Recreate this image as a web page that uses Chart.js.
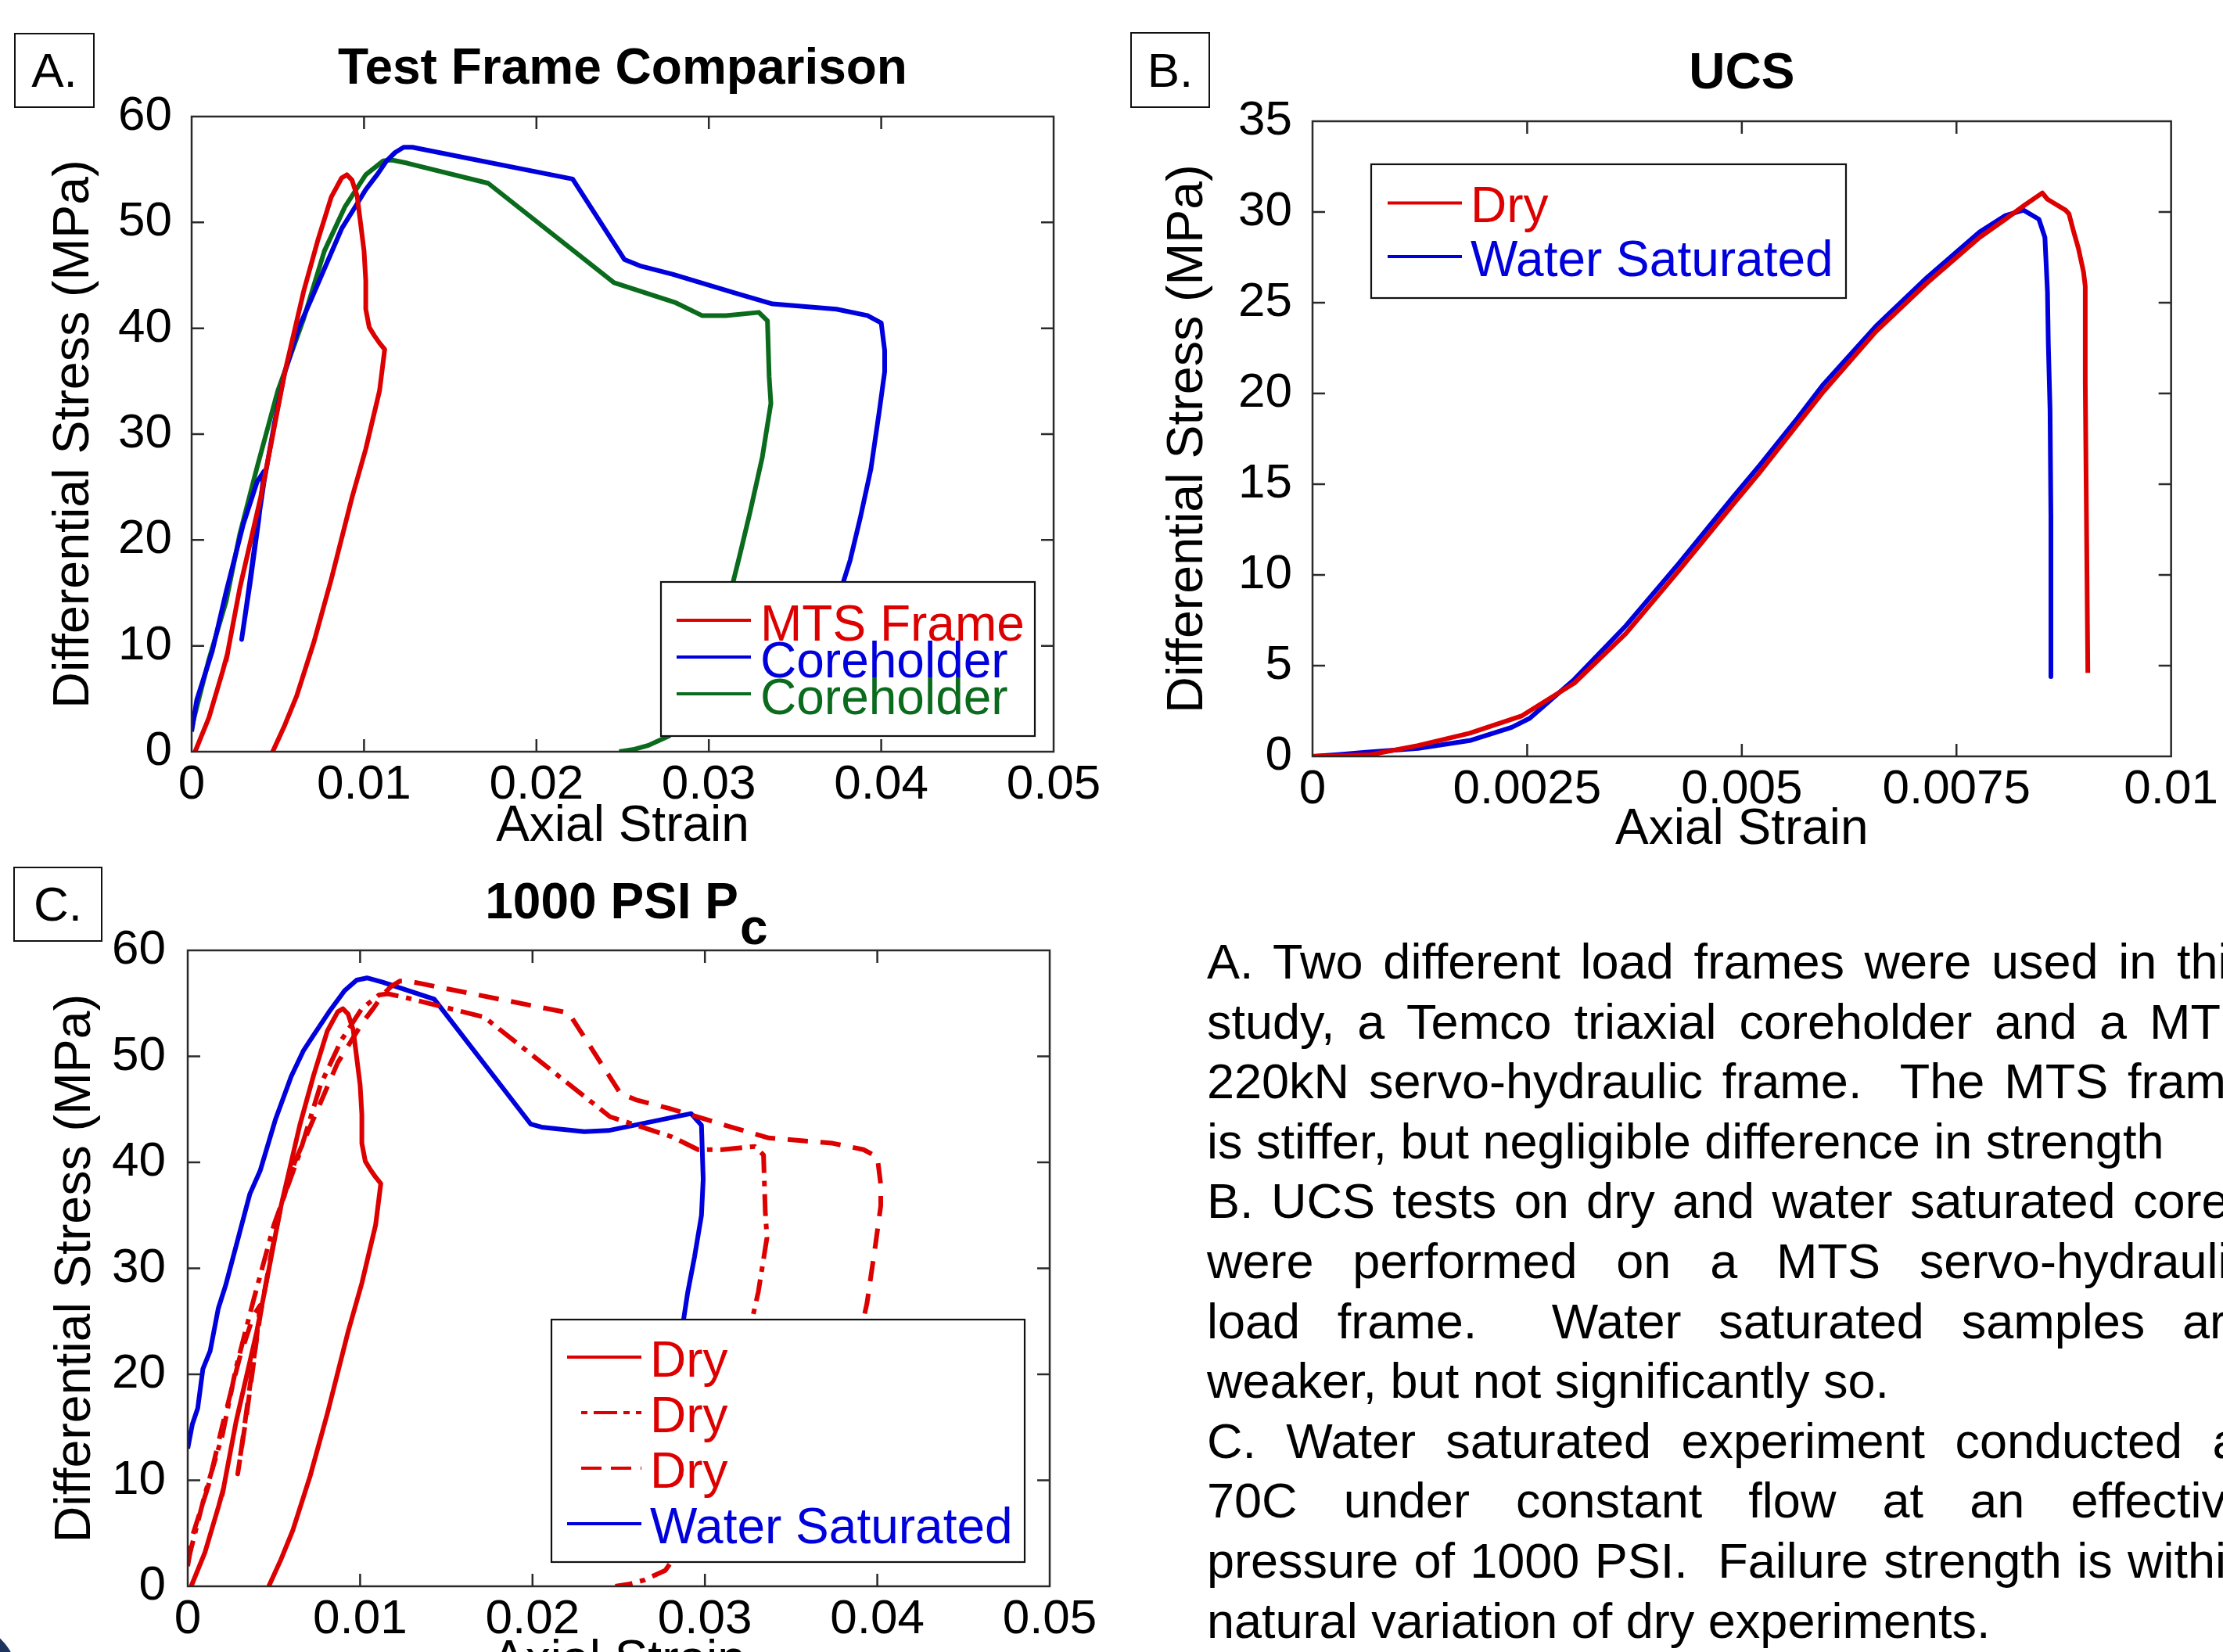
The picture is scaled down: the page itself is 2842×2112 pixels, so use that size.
<!DOCTYPE html>
<html>
<head>
<meta charset="utf-8">
<script src="https://cdn.jsdelivr.net/npm/chart.js@4.4.1/dist/chart.umd.min.js"></script>
<style>
html,body{margin:0;padding:0;background:#fff;}
body{width:2842px;height:2112px;overflow:hidden;position:relative;font-family:"Liberation Sans",Arial,Helvetica,sans-serif;color:#000;}
canvas.cv{position:absolute;}
.lbl{position:absolute;box-sizing:border-box;border:2px solid #111;font-size:62px;line-height:1;display:flex;align-items:center;justify-content:center;background:#fff;}
.para{position:absolute;left:1543px;top:1191px;font-size:63px;line-height:76.6px;}
.para div{width:1338px;white-space:normal;text-align:justify;text-align-last:justify;}
.para div.l{text-align-last:left;}
.arc{position:absolute;left:-128px;top:2074px;width:152px;height:152px;border-radius:50%;background:#1d3461;}
</style>
</head>
<body>
<canvas id="cA" class="cv" width="1420" height="1096" style="left:0;top:0;width:1420px;height:1096px"></canvas>
<canvas id="cB" class="cv" width="1422" height="1100" style="left:1420px;top:0;width:1422px;height:1100px"></canvas>
<canvas id="cC" class="cv" width="1420" height="1073" style="left:0;top:1090px;width:1420px;height:1073px"></canvas>

<div class="lbl" style="left:18px;top:42px;width:103px;height:96px">A.</div>
<div class="lbl" style="left:1445px;top:41px;width:102px;height:97px">B.</div>
<div class="lbl" style="left:17px;top:1108px;width:114px;height:96px">C.</div>

<div class="para">
<div>A. Two different load frames were used in this</div>
<div>study, a Temco triaxial coreholder and a MTS</div>
<div>220kN servo-hydraulic frame.&nbsp; The MTS frame</div>
<div class="l">is stiffer, but negligible difference in strength</div>
<div>B. UCS tests on dry and water saturated cores</div>
<div>were performed on a MTS servo-hydraulic</div>
<div>load frame.&nbsp; Water saturated samples are</div>
<div class="l">weaker, but not significantly so.</div>
<div>C. Water saturated experiment conducted at</div>
<div>70C under constant flow at an effective</div>
<div>pressure of 1000 PSI.&nbsp; Failure strength is within</div>
<div class="l">natural variation of dry experiments.</div>
</div>
<div class="arc"></div>

<script>
// ================= DATA =================
// Panel A / C : MTS frame (dry, solid red)
const mtsStrain = [0.0002, 0.0010, 0.0018, 0.0021, 0.0020, 0.0028, 0.0040, 0.0046, 0.0054, 0.0065, 0.0073, 0.0081, 0.0087, 0.0090, 0.0093, 0.0096, 0.0098, 0.0100, 0.0101, 0.0101, 0.0103, 0.0106, 0.0109, 0.0112, 0.0109, 0.0101, 0.0093, 0.0081, 0.0071, 0.0061, 0.0054, 0.0047];
const mtsStress = [0.0, 3.2, 7.6, 9.4, 8.6, 15.5, 24.0, 29.0, 35.8, 43.5, 48.2, 52.4, 54.2, 54.5, 54.0, 52.5, 49.9, 47.3, 44.5, 41.8, 40.1, 39.3, 38.6, 38.0, 34.1, 28.6, 24.0, 16.3, 10.4, 5.3, 2.5, 0.0];

// Coreholder test 1 (blue in A, dashed red in C)
const core1Strain = [0.0000, 0.0003, 0.0012, 0.0020, 0.0030, 0.0038, 0.0042, 0.0039, 0.0034, 0.0029, 0.0032, 0.0037, 0.0042, 0.0048, 0.0054, 0.0062, 0.0069, 0.0078, 0.0087, 0.0095, 0.0101, 0.0108, 0.0113, 0.0118, 0.0123, 0.0128, 0.0221, 0.0251, 0.0260, 0.0279, 0.0316, 0.0337, 0.0374, 0.0392, 0.0400, 0.0402, 0.0402, 0.0399, 0.0394, 0.0388, 0.0382, 0.0377, 0.0372, 0.0368];
const core1Stress = [1.9, 4.9, 9.5, 15.1, 21.5, 25.5, 26.5, 22.0, 16.0, 10.6, 14.0, 20.0, 25.5, 31.0, 35.8, 40.0, 42.6, 46.0, 49.4, 51.5, 53.1, 54.6, 55.8, 56.6, 57.1, 57.1, 54.1, 46.5, 45.9, 45.1, 43.3, 42.3, 41.8, 41.2, 40.5, 37.9, 35.9, 32.3, 26.7, 22.2, 18.1, 15.5, 12.0, 8.0];

// Coreholder test 2 (green in A, dash-dot red in C)
const core2Strain = [0.0000, 0.0010, 0.0020, 0.0028, 0.0038, 0.0050, 0.0065, 0.0077, 0.0089, 0.0101, 0.0111, 0.0116, 0.0125, 0.0172, 0.0245, 0.0281, 0.0296, 0.0310, 0.0329, 0.0334, 0.0335, 0.0336, 0.0331, 0.0324, 0.0318, 0.0311, 0.0302, 0.0292, 0.0277, 0.0265, 0.0256, 0.0248];
const core2Stress = [2.3, 8.7, 14.2, 20.6, 26.9, 34.1, 40.9, 47.3, 51.5, 54.5, 55.8, 55.9, 55.6, 53.7, 44.3, 42.4, 41.2, 41.2, 41.5, 40.7, 35.4, 32.9, 27.8, 22.7, 18.6, 14.0, 9.0, 5.0, 1.5, 0.6, 0.2, 0.0];

// Panel C : water saturated (blue)
const wetCStrain = [0.0000, 0.00027, 0.00058, 0.00088, 0.0013, 0.00177, 0.0022, 0.0030, 0.0036, 0.0042, 0.0051, 0.0060, 0.0067, 0.0073, 0.0082, 0.0091, 0.0098, 0.0104, 0.0113, 0.0143, 0.0199, 0.0206, 0.0230, 0.0244, 0.0292, 0.0298, 0.0299, 0.0298, 0.0294, 0.0290, 0.0287, 0.0284, 0.0280];
const wetCStress = [13.0, 15.3, 16.8, 20.5, 22.2, 26.2, 28.4, 33.3, 37.0, 39.2, 44.1, 48.1, 50.5, 52.0, 54.2, 56.2, 57.2, 57.4, 57.0, 55.4, 43.6, 43.3, 42.9, 43.0, 44.6, 43.5, 38.4, 35.0, 31.1, 27.7, 24.5, 20.0, 15.0];

// Panel B : UCS
const ucsDryStrain = [0.0000, 0.0004, 0.00068, 0.00123, 0.00183, 0.00244, 0.00305, 0.00365, 0.00426, 0.0049, 0.0052, 0.00565, 0.00595, 0.00656, 0.00716, 0.00777, 0.00807, 0.0083, 0.0085, 0.00856, 0.00877, 0.00881, 0.00886, 0.00892, 0.00898, 0.0090, 0.0090, 0.00902, 0.00903];
const ucsDryStress = [0.0, 0.05, 0.1, 0.6, 1.28, 2.24, 4.04, 6.77, 10.2, 13.9, 15.6, 18.3, 20.1, 23.4, 26.1, 28.6, 29.6, 30.4, 31.05, 30.7, 30.1, 29.9, 29.0, 28.0, 26.7, 25.9, 20.6, 10.0, 4.6];
const ucsWetStrain = [0.0000, 0.0003, 0.00062, 0.00123, 0.00183, 0.00232, 0.00253, 0.00305, 0.00365, 0.00426, 0.0049, 0.0052, 0.00565, 0.00595, 0.00656, 0.00716, 0.00777, 0.00807, 0.00828, 0.00846, 0.00853, 0.00856, 0.00857, 0.00859, 0.0086, 0.0086];
const ucsWetStress = [0.0, 0.1, 0.23, 0.44, 0.87, 1.6, 2.1, 4.25, 7.2, 10.6, 14.3, 16.0, 18.65, 20.5, 23.7, 26.4, 28.9, 29.8, 30.1, 29.6, 28.6, 25.6, 22.7, 19.1, 13.2, 4.4];

// Ticks
const strainTicks = [0, 0.01, 0.02, 0.03, 0.04, 0.05];
const strainTickLabels = ['0', '0.01', '0.02', '0.03', '0.04', '0.05'];
const stressTicks60 = [0, 10, 20, 30, 40, 50, 60];
const stressTickLabels60 = ['0', '10', '20', '30', '40', '50', '60'];
const ucsStrainTicks = [0, 0.0025, 0.005, 0.0075, 0.01];
const ucsStrainTickLabels = ['0', '0.0025', '0.005', '0.0075', '0.01'];
const ucsStressTicks = [0, 5, 10, 15, 20, 25, 30, 35];
const ucsStressTickLabels = ['0', '5', '10', '15', '20', '25', '30', '35'];

// Labels
const titleA = 'Test Frame Comparison';
const titleB = 'UCS';
const titleC = '1000 PSI P ';
const titleCSub = 'c';
const xTitle = 'Axial Strain';
const yTitle = 'Differential Stress (MPa)';

// ================= RENDERING =================
const FONT = '"Liberation Sans", Arial, Helvetica, sans-serif';
Chart.defaults.font.family = FONT;
Chart.defaults.color = '#000';
const RED = '#dd0000', BLUE = '#0000dd', GREEN = '#0b6b1d';

function pts(xs, ys) { return xs.map((x, i) => ({ x: x, y: ys[i] })); }

function line(label, xs, ys, color, dash) {
  return { label, data: pts(xs, ys), borderColor: color, backgroundColor: color, borderWidth: 6,
    borderDash: dash || [], pointRadius: 0, pointHoverRadius: 0, showLine: true, fill: false,
    tension: 0, borderCapStyle: 'butt', borderJoinStyle: 'round' };
}

const framePlugin = {
  id: 'frameLegend',
  afterDatasetsDraw(chart, args, o) {
    const { ctx, chartArea: a } = chart;
    const xs = chart.scales.x, ys = chart.scales.y;
    ctx.save();
    ctx.setLineDash([]);
    ctx.strokeStyle = '#2a2a2a';
    ctx.lineWidth = 2.5;
    ctx.beginPath();
    xs.ticks.forEach(t => {
      const p = xs.getPixelForValue(t.value);
      if (p > a.left + 2 && p < a.right - 2) {
        ctx.moveTo(p, a.bottom); ctx.lineTo(p, a.bottom - o.tickLen);
        ctx.moveTo(p, a.top); ctx.lineTo(p, a.top + o.tickLen);
      }
    });
    ys.ticks.forEach(t => {
      const p = ys.getPixelForValue(t.value);
      if (p > a.top + 2 && p < a.bottom - 2) {
        ctx.moveTo(a.left, p); ctx.lineTo(a.left + o.tickLen, p);
        ctx.moveTo(a.right, p); ctx.lineTo(a.right - o.tickLen, p);
      }
    });
    ctx.stroke();
    ctx.strokeRect(a.left, a.top, a.right - a.left, a.bottom - a.top);

    const L = o.legend;
    if (L) {
      const bx = a.left + L.left, by = a.top + L.top;
      ctx.fillStyle = '#fff';
      ctx.fillRect(bx, by, L.width, L.height);
      ctx.lineWidth = 2.2; ctx.strokeStyle = '#111';
      ctx.strokeRect(bx, by, L.width, L.height);
      chart.data.datasets.forEach((ds, i) => {
        const yy = by + L.firstRow + i * L.rowStep;
        const s0 = L.sampleStart ? L.sampleStart[i] : L.sampleX0;
        ctx.strokeStyle = ds.borderColor; ctx.lineWidth = 4;
        ctx.setLineDash(ds.borderDash && ds.borderDash.length ? L.sampleDash[i] : []);
        ctx.beginPath(); ctx.moveTo(bx + s0, yy); ctx.lineTo(bx + L.sampleX1, yy); ctx.stroke();
        ctx.setLineDash([]);
        ctx.fillStyle = ds.borderColor;
        ctx.font = L.fontSize + 'px ' + FONT;
        ctx.textBaseline = 'middle'; ctx.textAlign = 'left';
        ctx.fillText(ds.label, bx + L.textX, yy + L.textDy);
      });
    }
    ctx.restore();
  }
};

const subPlugin = {
  id: 'titleSub',
  afterDraw(chart, args, o) {
    if (!o || !o.text) return;
    const t = chart.titleBlock; if (!t) return;
    const to = t.options; const size = to.font.size;
    const { ctx } = chart;
    ctx.save();
    ctx.font = 'bold ' + size + 'px ' + FONT;
    const full = ctx.measureText(to.text).width;
    const main = ctx.measureText(to.text.replace(/\s+$/, '')).width;
    const cx = t.left + t.width / 2;
    const midY = t.top + to.padding.top + size * 1.2 / 2;
    ctx.fillStyle = '#000'; ctx.textBaseline = 'middle'; ctx.textAlign = 'left';
    ctx.fillText(o.text, cx - full / 2 + main + o.dx, midY + o.dy);
    ctx.restore();
  }
};

function makeChart(id, p) {
  return new Chart(document.getElementById(id), {
    type: 'scatter',
    data: { datasets: p.datasets },
    plugins: [framePlugin, subPlugin],
    options: {
      responsive: false, animation: false, devicePixelRatio: 1,
      layout: { padding: { left: 0, top: 0, right: p.padRight, bottom: 0 } },
      events: [],
      plugins: {
        legend: { display: false }, tooltip: { enabled: false },
        title: { display: true, text: p.title, fullSize: false, color: '#000',
          font: { size: 64, weight: 'bold', family: FONT }, padding: { top: p.titleTop, bottom: p.titleBottom } },
        frameLegend: { tickLen: 16, legend: p.legend },
        titleSub: p.sub || {}
      },
      scales: {
        x: {
          type: 'linear', position: 'bottom', min: p.xTicks[0], max: p.xTicks[p.xTicks.length - 1],
          afterBuildTicks: s => { s.ticks = p.xTicks.map(v => ({ value: v })); },
          afterFit: s => { s.height = p.xHeight; },
          grid: { display: false, drawTicks: false }, border: { display: false },
          ticks: { autoSkip: false, maxRotation: 0, padding: 6, color: '#000', font: { size: 62 },
            callback: (v, i) => p.xLabels[i] },
          title: { display: true, text: xTitle, color: '#000', font: { size: 64 }, padding: { top: 0, bottom: 0 } }
        },
        y: {
          type: 'linear', position: 'left', min: p.yTicks[0], max: p.yTicks[p.yTicks.length - 1],
          afterBuildTicks: s => { s.ticks = p.yTicks.map(v => ({ value: v })); },
          afterFit: s => { s.width = p.yWidth; },
          grid: { display: false, drawTicks: false }, border: { display: false },
          ticks: { autoSkip: false, padding: p.yPad, color: '#000', font: { size: 62 },
            callback: (v, i) => p.yLabels[i] },
          title: { display: true, text: yTitle, color: '#000', font: { size: 64.5 }, padding: { top: p.yTitlePad, bottom: 0 } }
        }
      }
    }
  });
}

// Panel A
makeChart('cA', {
  title: titleA, titleTop: 51, titleBottom: 21.2, padRight: 73, xHeight: 135, yWidth: 245, yPad: 25, yTitlePad: 57,
  xTicks: strainTicks, xLabels: strainTickLabels, yTicks: stressTicks60, yLabels: stressTickLabels60,
  datasets: [
    line('MTS Frame', mtsStrain, mtsStress, RED),
    line('Coreholder', core1Strain, core1Stress, BLUE),
    line('Coreholder', core2Strain, core2Stress, GREEN)
  ],
  legend: { left: 600, top: 595, width: 478, height: 197, firstRow: 49, rowStep: 47, sampleX0: 20, sampleX1: 115,
    textX: 127, textDy: 8, fontSize: 64 }
});

// Panel B
makeChart('cB', {
  title: titleB, titleTop: 56.5, titleBottom: 21.7, padRight: 63, xHeight: 133, yWidth: 258, yPad: 26, yTitlePad: 61,
  xTicks: ucsStrainTicks, xLabels: ucsStrainTickLabels, yTicks: ucsStressTicks, yLabels: ucsStressTickLabels,
  datasets: [
    line('Dry', ucsDryStrain, ucsDryStress, RED),
    line('Water Saturated', ucsWetStrain, ucsWetStress, BLUE)
  ],
  legend: { left: 75, top: 55, width: 607, height: 171, firstRow: 49.6, rowStep: 68.4, sampleX0: 21, sampleX1: 116,
    textX: 127, textDy: 7, fontSize: 64 }
});

// Panel C
makeChart('cC', {
  title: titleC, titleTop: 28, titleBottom: 20.2, padRight: 78, xHeight: 135, yWidth: 240, yPad: 28, yTitlePad: 59,
  xTicks: strainTicks, xLabels: strainTickLabels, yTicks: stressTicks60, yLabels: stressTickLabels60,
  sub: { text: titleCSub, dx: 2, dy: 33 },
  datasets: [
    line('Dry', mtsStrain, mtsStress, RED),
    line('Dry', core2Strain, core2Stress, RED, [28, 10, 7, 10]),
    line('Dry', core1Strain, core1Stress, RED, [26, 16]),
    line('Water Saturated', wetCStrain, wetCStress, BLUE)
  ],
  legend: { left: 465, top: 472, width: 605, height: 310, firstRow: 48, rowStep: 71, sampleStart: [20, 38, 38, 20],
    sampleX1: 115, sampleDash: [[], [8, 8, 30, 8], [26, 12], []], textX: 126, textDy: 7, fontSize: 64 }
});
</script>
</body>
</html>
